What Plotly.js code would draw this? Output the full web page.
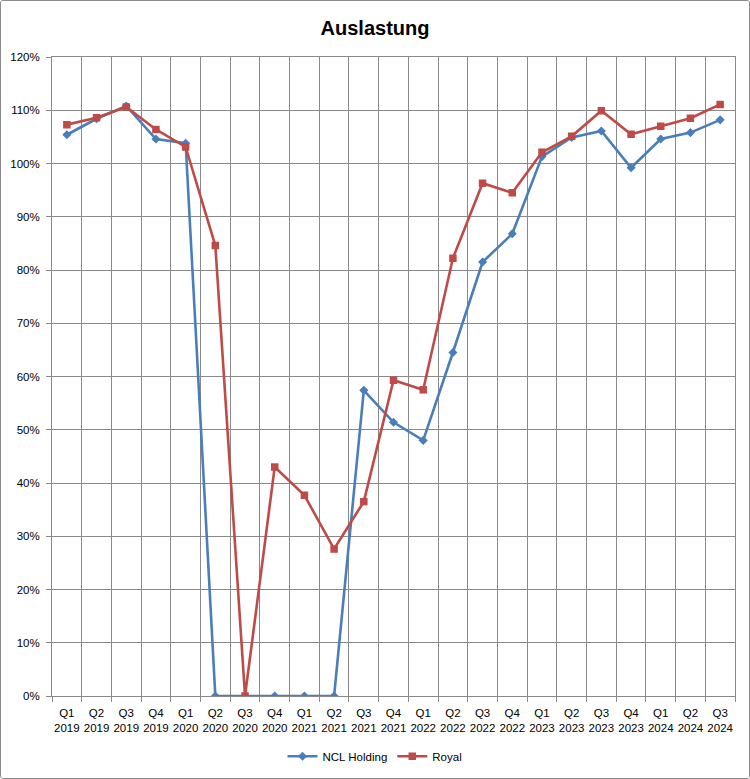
<!DOCTYPE html>
<html>
<head>
<meta charset="utf-8">
<script src="https://cdn.plot.ly/plotly-3.0.1.min.js"></script>
<style>
  html, body { margin: 0; padding: 0; background: #fff; }
  #chart { width: 750px; height: 779px; box-sizing: border-box; border: 1px solid #8a8a8a; border-radius: 3px; overflow: hidden; }
</style>
</head>
<body>
<div id="chart"></div>
<script>
// Quarter labels (x axis) and utilisation per quarter.
const QUARTERS = [
  "Q1 2019", "Q2 2019", "Q3 2019", "Q4 2019",
  "Q1 2020", "Q2 2020", "Q3 2020", "Q4 2020",
  "Q1 2021", "Q2 2021", "Q3 2021", "Q4 2021",
  "Q1 2022", "Q2 2022", "Q3 2022", "Q4 2022",
  "Q1 2023", "Q2 2023", "Q3 2023", "Q4 2023",
  "Q1 2024", "Q2 2024", "Q3 2024",
];
const NCL = [
  1.054, 1.084, 1.108, 1.046,
  1.038, 0.0, 0.0, 0.0,
  0.0, 0.0, 0.574, 0.514,
  0.480, 0.645, 0.815, 0.868,
  1.013, 1.049, 1.061, 0.992,
  1.046, 1.058, 1.082,
];
const ROYAL = [
  1.073, 1.086, 1.106, 1.064,
  1.031, 0.846, 0.0, 0.430,
  0.377, 0.276, 0.365, 0.593,
  0.575, 0.822, 0.963, 0.945,
  1.021, 1.051, 1.099, 1.055,
  1.070, 1.085, 1.111,
];
const Y_TICKS = [0, 0.1, 0.2, 0.3, 0.4, 0.5, 0.6, 0.7, 0.8, 0.9, 1.0, 1.1, 1.2];

const BLUE = "#4a7ebb";
const RED = "#be4b48";
const GRID = "#898989";
const FONT = "Liberation Sans Narrow, Liberation Sans, Arial, sans-serif";

// two-line tick labels: "Q1<br>2019"
const tickText = QUARTERS.map((q) => q.replace(" ", "<br>"));

const traces = [
  {
    x: QUARTERS,
    y: NCL,
    type: "scatter",
    mode: "lines+markers",
    name: "NCL Holding",
    line: { color: BLUE, width: 2.6 },
    marker: { color: BLUE, symbol: "diamond", size: 7 },
  },
  {
    x: QUARTERS,
    y: ROYAL,
    type: "scatter",
    mode: "lines+markers",
    name: "Royal",
    line: { color: RED, width: 2.6 },
    marker: { color: RED, symbol: "square", size: 7.5 },
  },
];

const layout = {
  width: 748,
  height: 777,
  margin: { l: 51, r: 14, t: 56, b: 82 },
  paper_bgcolor: "#fff",
  plot_bgcolor: "#fff",
  font: { family: FONT, size: 11.5, color: "#000" },
  title: {
    text: "<b>Auslastung</b>",
    font: { family: "Liberation Sans, Arial, sans-serif", size: 20, color: "#000" },
    x: 0.5,
    xanchor: "center",
    y: 0.965,
    yanchor: "middle",
  },
  showlegend: true,
  legend: {
    orientation: "h",
    x: 0.5,
    xanchor: "center",
    xref: "container",
    yref: "container",
    y: 0.028,
    yanchor: "middle",
    font: { family: FONT, size: 11.5 },
  },
  xaxis: {
    type: "category",
    range: [-0.5, QUARTERS.length - 0.5],
    tickmode: "array",
    tickvals: QUARTERS,
    ticktext: tickText,
    tickangle: 0,
    tickson: "boundaries",
    ticks: "outside",
    ticklen: 5,
    tickcolor: GRID,
    ticklabelstandoff: 6,
    showgrid: true,
    gridcolor: GRID,
    gridwidth: 1,
    showline: true,
    linecolor: GRID,
    linewidth: 1,
    mirror: true,
    zeroline: false,
    automargin: false,
    tickfont: { family: FONT, size: 11.5 },
    fixedrange: true,
  },
  yaxis: {
    range: [0, 1.2],
    tickmode: "array",
    tickvals: Y_TICKS,
    tickformat: ".0%",
    ticks: "outside",
    ticklen: 5,
    tickcolor: GRID,
    ticklabelstandoff: 4,
    showgrid: true,
    gridcolor: GRID,
    gridwidth: 1,
    showline: true,
    linecolor: GRID,
    linewidth: 1,
    mirror: true,
    zeroline: false,
    automargin: false,
    tickfont: { family: FONT, size: 11.5 },
    fixedrange: true,
  },
  hovermode: false,
};

Plotly.newPlot("chart", traces, layout, { displayModeBar: false, staticPlot: true });
</script>
</body>
</html>
